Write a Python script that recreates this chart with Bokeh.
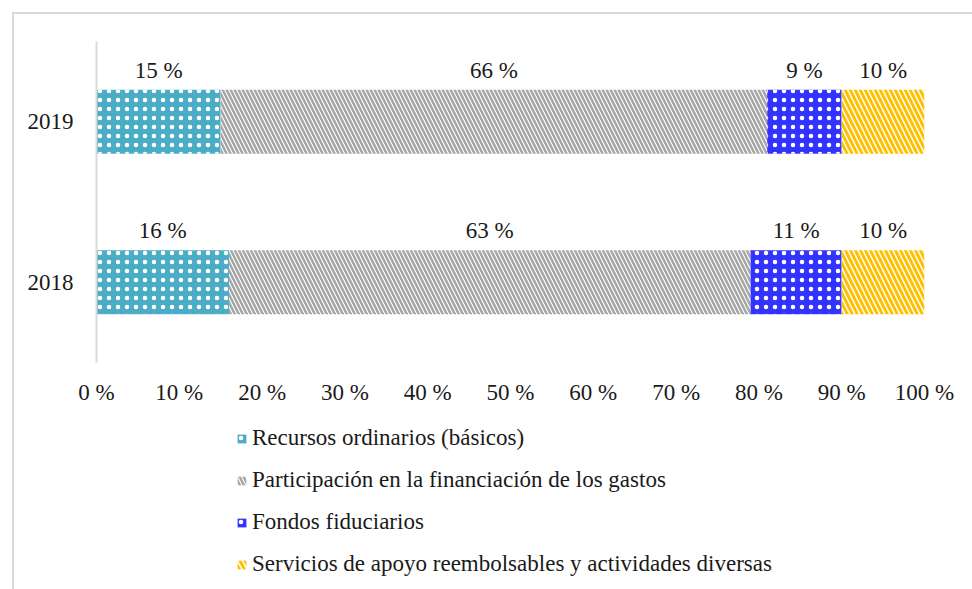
from bokeh.plotting import figure
from bokeh.layouts import column
from bokeh.models import (ColumnDataSource, Range1d, FactorRange, FixedTicker,
                          Legend, LegendItem)
from bokeh.transform import stack, dodge
from bokeh.core.properties import value
from bokeh.embed import file_html
from bokeh.resources import INLINE

# --- data -------------------------------------------------------------
years = ["2018", "2019"]
recursos = [16, 15]
participacion = [63, 66]
fondos = [11, 9]
servicios = [10, 10]

series_keys = ["recursos", "participacion", "fondos", "servicios"]
series_names = [
    "Recursos ordinarios (básicos)",
    "Participación en la financiación de los gastos",
    "Fondos fiduciarios",
    "Servicios de apoyo reembolsables y actividades diversas",
]
tick_values = [0, 10, 20, 30, 40, 50, 60, 70, 80, 90, 100]
tick_labels = ["0 %", "10 %", "20 %", "30 %", "40 %", "50 %",
               "60 %", "70 %", "80 %", "90 %", "100 %"]

# --- styling ----------------------------------------------------------
FONT = "Liberation Serif"
FONT_SIZE = "23px"
TEXT_COLOR = "#1a1a1a"
styles = {
    "recursos": dict(fill_color="#4bacc6", hatch_pattern="dot",
                     hatch_color="white", hatch_scale=9, hatch_weight=1),
    "participacion": dict(fill_color="white", hatch_pattern="left_diagonal_line",
                          hatch_color="#a6a6a6", hatch_scale=8, hatch_weight=2.5),
    "fondos": dict(fill_color="#3333ff", hatch_pattern="dot",
                   hatch_color="white", hatch_scale=9, hatch_weight=1),
    "servicios": dict(fill_color="white", hatch_pattern="left_diagonal_line",
                      hatch_color="#ffc000", hatch_scale=10, hatch_weight=3),
}

data = dict(year=years, recursos=recursos, participacion=participacion,
            fondos=fondos, servicios=servicios)
source = ColumnDataSource(data)

# --- main chart -------------------------------------------------------
p = figure(
    width=958, height=400,
    y_range=FactorRange(*years), x_range=Range1d(0, 100),
    output_backend="svg", toolbar_location=None,
    min_border_left=82, min_border_right=48,
    min_border_top=27, min_border_bottom=52,
)
p.outline_line_color = None
p.xgrid.grid_line_color = None
p.ygrid.grid_line_color = None

for i, key in enumerate(series_keys):
    p.hbar(y="year", height=0.4,
           left=stack(*series_keys[:i]), right=stack(*series_keys[:i + 1]),
           source=source, line_color=None, **styles[key])

# value labels above each segment
lab_x, lab_y, lab_t = [], [], []
for j, yr in enumerate(years):
    start = 0
    for key in series_keys:
        v = data[key][j]
        lab_x.append(start + v / 2)
        lab_y.append(yr)
        lab_t.append(f"{v} %")
        start += v
lab_src = ColumnDataSource(dict(x=lab_x, y=lab_y, t=lab_t))
p.text(x="x", y=dodge("y", 0.32, range=p.y_range), text="t", source=lab_src,
       text_align="center", text_baseline="middle",
       text_font=value(FONT), text_font_size=FONT_SIZE, text_color=TEXT_COLOR)

# axes
p.xaxis.ticker = FixedTicker(ticks=tick_values)
p.xaxis.major_label_overrides = dict(zip(tick_values, tick_labels))
p.xaxis.axis_line_color = None
p.xaxis.major_tick_line_color = None
p.xaxis.minor_tick_line_color = None
p.xaxis.major_label_standoff = 11
p.xaxis.major_label_text_font = FONT
p.xaxis.major_label_text_font_size = FONT_SIZE
p.xaxis.major_label_text_color = TEXT_COLOR

p.yaxis.axis_line_color = "#d9d9d9"
p.yaxis.axis_line_width = 2
p.yaxis.major_tick_line_color = None
p.yaxis.minor_tick_line_color = None
p.yaxis.major_label_standoff = 17
p.yaxis.major_label_text_font = FONT
p.yaxis.major_label_text_font_size = FONT_SIZE
p.yaxis.major_label_text_color = TEXT_COLOR

# --- legend panel -----------------------------------------------------
leg = figure(
    width=958, height=175, x_range=Range1d(0, 1), y_range=Range1d(0, 1),
    x_axis_type=None, y_axis_type=None,
    output_backend="svg", toolbar_location=None,
    min_border=0,
)
leg.outline_line_color = None
leg.xgrid.grid_line_color = None
leg.ygrid.grid_line_color = None

# swatch renderers sit outside the visible range; only their legend glyphs show
swatch = ColumnDataSource(dict(y=[5], left=[5], right=[6]))
leg_renderers = [
    leg.hbar(y="y", left="left", right="right", height=0.4, source=swatch,
             line_color=None, **styles[key])
    for key in series_keys
]

legend = Legend(
    items=[LegendItem(label=n, renderers=[r]) for n, r in zip(series_names, leg_renderers)],
    orientation="vertical", location=(140, 12),
    padding=0, margin=0, spacing=16,
    glyph_width=11, glyph_height=11, label_height=26, label_standoff=5,
    label_text_font=FONT, label_text_font_size=FONT_SIZE, label_text_color=TEXT_COLOR,
    border_line_color=None, background_fill_alpha=0,
)
leg.add_layout(legend, "center")

page = column(p, leg, spacing=0)
page.margin = (12, 0, 0, 12)
page.styles = {"border-top": "2px solid #d9d9d9", "border-left": "2px solid #d9d9d9"}

open("out.html", "w").write(file_html(page, INLINE))
